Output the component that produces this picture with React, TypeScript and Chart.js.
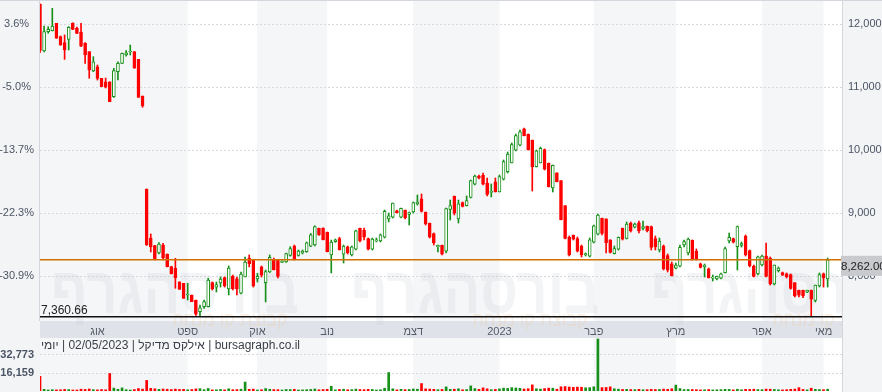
import React, { useEffect, useRef } from 'react';
import { Chart, registerables } from 'chart.js';

Chart.register(...registerables);

// ---------------- data ----------------
const opens = [
  12310, 11572, 11878, 11894, 12011, 11800, 11704, 11757, 12011, 11932,
  11870, 11694, 11561, 11255, 11323, 11139, 11085, 11085, 10848, 11244,
  11377, 11510, 11556, 11561, 11440, 10859, 9380, 8608, 8486, 8370,
  8497, 8355, 8154, 8133, 7915, 7890, 7705, 7700, 7625, 7440,
  7520, 7520, 7900, 7830, 7895, 7980, 7800, 8000, 7960, 7735,
  7990, 8290, 8259, 7960, 8150, 7900, 8069, 8270, 8259, 8222,
  8228, 8330, 8480, 8330, 8370, 8390, 8480, 8497, 8760, 8767,
  8700, 8340, 8550, 8600, 8350, 8470, 8340, 8430, 8760, 8730,
  8600, 8430, 8560, 8560, 8620, 8910, 8940, 9040, 8940, 9050,
  8980, 9020, 9150, 9230, 9020, 8840, 8680, 8470, 8490, 8400,
  9060, 9270, 8910, 9170, 9120, 9250, 9460, 9590, 9600, 9480,
  9330, 9500, 9340, 9540, 9660, 9800, 10000, 10080, 10340, 10250,
  10161, 9740, 9800, 10010, 9790, 9400, 9640, 9520, 9120, 8620,
  8650, 8600, 8480, 8340, 8320, 8540, 8670, 8920, 8910, 8580,
  8360, 8430, 8760, 8600, 8840, 8780, 8850, 8760, 8798, 8790,
  8600, 8420, 8480, 8330, 8200, 8130, 8160, 8500, 8370, 8576,
  8400, 8200, 8150, 8120, 7970, 7960, 7970, 8060, 8560, 8600,
  8470, 8490, 8640, 8410, 8160, 8040, 8180, 8320, 8290, 7880,
  8090, 8060, 8040, 8030, 7900, 7780, 7780, 7750, 7780, 7620,
  7850, 8040, 7960,
];
const highs = [
  12320, 11968, 11958, 12249, 12011, 11810, 11826, 11958, 12020, 11950,
  12011, 11704, 11561, 11482, 11350, 11139, 11144, 11085, 11298, 11402,
  11540, 11577, 11667, 11561, 11440, 10860, 9386, 8672, 8490, 8535,
  8525, 8355, 8160, 8286, 7915, 7890, 7890, 7705, 7625, 7545,
  7625, 7970, 7911, 7911, 7990, 7990, 8164, 8020, 7990, 8069,
  8307, 8340, 8259, 8050, 8164, 8100, 8340, 8290, 8259, 8250,
  8370, 8470, 8497, 8418, 8418, 8545, 8680, 8800, 8767, 8770,
  8703, 8576, 8592, 8620, 8497, 8481, 8481, 8735, 8767, 8767,
  8608, 8608, 8608, 8672, 9052, 9004, 9163, 9052, 9084, 9052,
  9020, 9179, 9290, 9306, 9020, 8846, 8688, 8497, 8497, 9084,
  9210, 9274, 9210, 9179, 9274, 9527, 9607, 9607, 9638, 9559,
  9464, 9559, 9607, 9844, 9971, 10114, 10257, 10320, 10352, 10257,
  10161, 10003, 10050, 10019, 9797, 9765, 9640, 9520, 9120, 8640,
  8656, 8624, 8497, 8370, 8608, 8814, 8989, 8925, 8910, 8580,
  8481, 8624, 8767, 8862, 8862, 8846, 8878, 8878, 8798, 8798,
  8640, 8608, 8497, 8355, 8228, 8212, 8497, 8576, 8608, 8576,
  8434, 8212, 8196, 8133, 8022, 8006, 8054, 8465, 8687, 8608,
  8798, 8545, 8656, 8418, 8180, 8323, 8339, 8529, 8307, 8180,
  8149, 8069, 8054, 8038, 7900, 7784, 7784, 7784, 7784, 7863,
  8054, 8054, 8291,
];
const lows = [
  11545, 11556, 11852, 11890, 11770, 11660, 11440, 11588, 11910, 11845,
  11640, 11377, 11140, 11245, 11112, 11006, 10986, 10768, 10838, 11112,
  11370, 11490, 11509, 11298, 10838, 10680, 8490, 8386, 8259, 8355,
  8259, 8150, 8038, 7811, 7795, 7652, 7625, 7600, 7380, 7360.66,
  7490, 7515, 7784, 7752, 7830, 7830, 7705, 7784, 7705, 7721,
  7990, 8150, 7830, 7911, 7990, 7594, 8060, 8101, 7974, 8220,
  8220, 8320, 8259, 8320, 8355, 8380, 8470, 8481, 8650, 8576,
  8386, 8054, 8540, 8418, 8212, 8355, 8323, 8418, 8545, 8576,
  8418, 8418, 8545, 8545, 8608, 8862, 8925, 9004, 8925, 8910,
  8814, 9004, 9130, 9020, 8814, 8608, 8497, 8386, 8340, 8370,
  8893, 8973, 8846, 9100, 9115, 9242, 9448, 9543, 9448, 9274,
  9258, 9337, 9337, 9527, 9638, 9797, 9990, 10066, 10225, 10003,
  9353, 9733, 9797, 9686, 9416, 9337, 9496, 8893, 8592, 8323,
  8576, 8386, 8307, 8323, 8307, 8529, 8656, 8656, 8370, 8370,
  8355, 8418, 8576, 8592, 8703, 8767, 8688, 8735, 8703, 8418,
  8418, 8386, 8101, 8069, 8006, 8117, 8149, 8465, 8339, 8259,
  8259, 8133, 7990, 7974, 7926, 7942, 7958, 8054, 8529, 8529,
  8101, 8465, 8323, 8149, 7990, 8022, 8164, 7990, 7863, 7863,
  8069, 8015, 7974, 7797, 7673, 7673, 7663, 7740, 7365, 7594,
  7831, 7830, 7831,
];
const closes = [
  11583, 11878, 11916, 11968, 11775, 11667, 11588, 11948, 11916, 11852,
  11650, 11509, 11271, 11402, 11139, 11006, 10997, 10768, 11260, 11377,
  11535, 11545, 11565, 11300, 10838, 10700, 8500, 8465, 8270, 8513,
  8291, 8154, 8038, 7974, 7795, 7652, 7720, 7600, 7400, 7500,
  7600, 7940, 7800, 7870, 7955, 7850, 8130, 7800, 7800, 8038,
  8228, 8200, 7850, 8000, 8020, 8075, 8300, 8101, 8000, 8240,
  8360, 8440, 8260, 8400, 8400, 8530, 8660, 8790, 8660, 8580,
  8390, 8545, 8580, 8420, 8480, 8370, 8470, 8720, 8560, 8620,
  8430, 8590, 8580, 8660, 9030, 8960, 9160, 9010, 9080, 8930,
  9010, 9170, 9180, 9030, 8830, 8620, 8530, 8490, 8350, 9075,
  9120, 9000, 9150, 9110, 9200, 9520, 9590, 9560, 9460, 9300,
  9350, 9340, 9580, 9820, 9940, 10090, 10230, 10290, 10230, 10010,
  9735, 9990, 10030, 9700, 9420, 9760, 9500, 8900, 8600, 8340,
  8590, 8400, 8340, 8360, 8580, 8800, 8970, 8680, 8530, 8380,
  8440, 8620, 8590, 8830, 8720, 8830, 8720, 8790, 8720, 8460,
  8470, 8560, 8120, 8100, 8010, 8180, 8460, 8550, 8590, 8280,
  8270, 8140, 8180, 7980, 7990, 8000, 8040, 8440, 8620, 8540,
  8790, 8520, 8340, 8170, 8000, 8310, 8320, 8000, 7880, 8180,
  8130, 8020, 7990, 7810, 7690, 7700, 7690, 7780, 7640, 7860,
  8030, 7980, 8262,
];
const volumes = [
  13200, 1500, 900, 1200, 1000, 1100, 1400, 1300, 800, 900,
  1600, 1400, 1800, 1200, 1000, 1300, 1100, 15700, 2600, 1500,
  2800, 1200, 900, 1300, 2200, 1700, 9500, 2400, 2000, 1500,
  1800, 1600, 1300, 1700, 1400, 1500, 1100, 1300, 1900, 2100,
  1200, 2300, 1000, 1100, 1400, 1000, 2000, 1200, 1300, 1600,
  8000, 1500, 1700, 900, 1100, 2200, 1500, 1300, 1200, 800,
  1400, 1300, 1500, 900, 1000, 1200, 1400, 1800, 1100, 1300,
  1500, 4300, 1000, 1400, 1600, 1100, 1200, 1700, 1300, 1200,
  1500, 1400, 900, 1100, 2500, 16600, 2000, 1000, 1500, 1200,
  1400, 1800, 1600, 6700, 1900, 1700, 1500, 1200, 1400, 3700,
  1500, 1600, 2000, 1100, 1300, 4600, 2200, 1500, 2800, 2000,
  1200, 1400, 1900, 2600, 2300, 3000, 2700, 2400, 1800, 2100,
  5500, 2000, 1700, 2200, 2600, 2500, 1600, 3800, 4000, 3600,
  3300, 3500, 3400, 2900, 3000, 3800, 46700, 3000, 3200, 3700,
  2000, 1600, 1400, 1500, 1300, 1200, 1500, 1100, 1200, 1500,
  1300, 1400, 1700, 1500, 2000, 5300, 2200, 1300, 1400, 1300,
  1200, 1000, 1100, 1300, 1000, 1100, 1200, 1500, 1400, 1000,
  1600, 1100, 1500, 1400, 1600, 1300, 1200, 1700, 1600, 1400,
  1100, 1000, 1200, 1500, 1700, 3000, 1400, 1000, 2500, 1500,
  1300, 1200, 1600,
];
const monthTickIdx = [14, 36, 53, 70, 91, 112, 135, 155, 176, 191];
const monthLabels = ['אוג', 'ספט', 'אוק', 'נוב', 'דצמ', '2023', 'פבר', 'מרץ', 'אפר', 'מאי'];
const priceTicks = [8000, 9000, 10000, 11000, 12000];
const volumeTicks = [16159, 32773];
const titleText = 'bursagraph.co.il | אילקס מדיקל | 02/05/2023 | יומי';
const watermarkText = 'בורסהגרף';
const watermarkSub = 'קבוצת קו מנחה';

// ---------------- look ----------------
const FONT = '"Liberation Sans", Arial, Helvetica, sans-serif';
const TEXT = '#4b5565';
const UP = '#17901a';
const DOWN = '#ff0000';
const PANEL = '#f3f4f6';
const SHADE = '#f5f6f8';
const XBAND = '#dfe3e9';
const GRID = '#d5d8dd';
const SEP = '#d3d7dd';

const X_MAX = 195.5;
const PRICE_MIN = 7292.5;
const PRICE_MAX = 12364.6;
const VOL_MAX = 47580;

const basePrice = closes[0];
const pct = (p: number) => (p / basePrice - 1) * 100;
const lastClose = closes[closes.length - 1];
const periodLow = Math.min(...lows);
const isUp = (i: number) => closes[i] >= opens[i];
const fmt2 = (v: number) => v.toLocaleString('en-US', { minimumFractionDigits: 2, maximumFractionDigits: 2 });

function paintBands(chart: any, top: number, bottom: number) {
  const { ctx, chartArea: a, scales } = chart;
  const x = scales.x;
  const edges = [a.left, ...monthTickIdx.slice(1).map((v) => x.getPixelForValue(v)), a.right];
  for (let k = 0; k < edges.length - 1; k++) {
    ctx.fillStyle = k % 2 === 0 ? SHADE : '#ffffff';
    ctx.fillRect(edges[k], top, edges[k + 1] - edges[k], bottom - top);
  }
}

const topDecor = {
  id: 'topDecor',
  beforeDraw(chart: any) {
    const { ctx, chartArea: a } = chart;
    ctx.save();
    ctx.fillStyle = PANEL;
    ctx.fillRect(0, 0, chart.width, chart.height);
    paintBands(chart, a.top, a.bottom);
    ctx.fillStyle = XBAND;
    ctx.fillRect(a.left, a.bottom, a.right - a.left, chart.height - a.bottom);
    ctx.strokeStyle = SEP;
    ctx.lineWidth = 1;
    ctx.beginPath();
    ctx.moveTo(0, 0.5);
    ctx.lineTo(chart.width, 0.5);
    ctx.moveTo(a.left - 0.5, 0);
    ctx.lineTo(a.left - 0.5, a.bottom);
    ctx.moveTo(a.right + 0.5, 0);
    ctx.lineTo(a.right + 0.5, chart.height);
    ctx.stroke();
    ctx.restore();
  },
  beforeDatasetsDraw(chart: any) {
    const { ctx, chartArea: a } = chart;
    ctx.save();
    ctx.beginPath();
    ctx.rect(a.left, 0, a.right - a.left, chart.height);
    ctx.clip();
    ctx.direction = 'rtl';
    ctx.textAlign = 'center';
    ctx.textBaseline = 'alphabetic';
    ctx.font = `bold 66px ${FONT}`;
    const w = ctx.measureText(watermarkText).width;
    ctx.font = `20px ${FONT}`;
    const ws = ctx.measureText(watermarkSub).width;
    for (const cx of [175, 475, 775]) {
      ctx.save();
      ctx.translate(cx, 313);
      ctx.scale(248 / w, 1);
      ctx.font = `bold 66px ${FONT}`;
      ctx.fillStyle = 'rgba(190,199,212,0.20)';
      ctx.fillText(watermarkText, 0, 0);
      ctx.restore();
      ctx.save();
      ctx.translate(cx + 112 - 57, 326);
      ctx.scale(115 / ws, 1);
      ctx.font = `20px ${FONT}`;
      ctx.fillStyle = 'rgba(240,196,156,0.25)';
      ctx.fillText(watermarkSub, 0, 0);
      ctx.restore();
    }
    ctx.restore();
  },
  afterDatasetsDraw(chart: any) {
    const { ctx, chartArea: a, scales } = chart;
    const y = scales.y;
    ctx.save();
    const yc = y.getPixelForValue(lastClose);
    ctx.strokeStyle = '#d07000';
    ctx.lineWidth = 1.5;
    ctx.beginPath();
    ctx.moveTo(a.left, yc);
    ctx.lineTo(a.right, yc);
    ctx.stroke();
    const yl = y.getPixelForValue(periodLow);
    ctx.strokeStyle = '#111111';
    ctx.lineWidth = 1.5;
    ctx.beginPath();
    ctx.moveTo(a.left, yl);
    ctx.lineTo(a.right, yl);
    ctx.stroke();
    ctx.fillStyle = '#222222';
    ctx.font = `12px ${FONT}`;
    ctx.textAlign = 'left';
    ctx.textBaseline = 'alphabetic';
    ctx.fillText(fmt2(periodLow), a.left + 1, yl - 2.5);
    ctx.fillStyle = '#c8cacd';
    ctx.fillRect(a.right - 1, yc - 4, chart.width - a.right + 1, 20);
    ctx.fillStyle = '#222222';
    ctx.font = `11.5px ${FONT}`;
    ctx.fillText(fmt2(lastClose), a.right - 1, yc + 10.5);
    ctx.restore();
  },
};

const volDecor = {
  id: 'volDecor',
  beforeDraw(chart: any) {
    const { ctx, chartArea: a } = chart;
    ctx.save();
    ctx.fillStyle = PANEL;
    ctx.fillRect(0, 0, chart.width, chart.height);
    paintBands(chart, 0, chart.height);
    ctx.strokeStyle = SEP;
    ctx.lineWidth = 1;
    ctx.beginPath();
    ctx.moveTo(a.right + 0.5, 0);
    ctx.lineTo(a.right + 0.5, chart.height);
    ctx.stroke();
    ctx.restore();
  },
  afterDatasetsDraw(chart: any) {
    const { ctx, chartArea: a } = chart;
    ctx.save();
    ctx.direction = 'rtl';
    ctx.textAlign = 'left';
    ctx.textBaseline = 'alphabetic';
    ctx.font = `12px ${FONT}`;
    ctx.fillStyle = '#3a3f47';
    ctx.fillText(titleText, a.left + 1, 11);
    ctx.restore();
  },
};

const tickFont = { family: FONT, size: 11 };

export default function App() {
  const topRef = useRef<HTMLCanvasElement>(null);
  const volRef = useRef<HTMLCanvasElement>(null);

  useEffect(() => {
    const colorOf = (i: number) => (isUp(i) ? UP : DOWN);

    const top = new Chart(topRef.current as HTMLCanvasElement, {
      type: 'bar',
      data: {
        datasets: [
          {
            label: 'wick',
            data: lows.map((l, i) => ({ x: i, y: [l, highs[i]] })) as any,
            backgroundColor: lows.map((_, i) => colorOf(i)),
            borderWidth: 0,
            barThickness: 1,
            grouped: false,
            minBarLength: 1,
            order: 2,
          },
          {
            label: 'body',
            data: opens.map((o, i) => ({ x: i, y: [o, closes[i]] })) as any,
            backgroundColor: opens.map((_, i) => (isUp(i) ? '#ffffff' : DOWN)),
            borderColor: opens.map((_, i) => colorOf(i)),
            borderWidth: 1,
            borderSkipped: false,
            barThickness: 3,
            grouped: false,
            minBarLength: 1,
            order: 1,
          },
        ],
      },
      options: {
        responsive: false,
        maintainAspectRatio: false,
        animation: false,
        devicePixelRatio: 1,
        events: [],
        layout: { autoPadding: false, padding: { top: 1, left: 0, right: 0, bottom: 0 } },
        plugins: { legend: { display: false }, tooltip: { enabled: false } },
        scales: {
          x: {
            type: 'linear',
            min: 0,
            max: X_MAX,
            offset: false,
            grid: { display: false, drawTicks: false, offset: false },
            border: { display: false },
            ticks: {
              autoSkip: false,
              maxRotation: 0,
              padding: 4,
              color: '#555b66',
              font: tickFont,
              callback: (_v: any, i: number) => monthLabels[i] ?? '',
            },
            afterBuildTicks: (s: any) => {
              s.ticks = monthTickIdx.map((v) => ({ value: v }));
            },
            afterFit: (s: any) => {
              s.height = 17;
              s.paddingLeft = 0;
              s.paddingRight = 0;
            },
          },
          y: {
            type: 'linear',
            position: 'right',
            min: PRICE_MIN,
            max: PRICE_MAX,
            grid: { color: GRID, lineWidth: 1, drawTicks: false },
            border: { display: false, dash: [2, 2] },
            ticks: {
              padding: 6,
              color: TEXT,
              font: tickFont,
              callback: (v: any) => Number(v).toLocaleString('en-US'),
            },
            afterBuildTicks: (s: any) => {
              s.ticks = priceTicks.map((v) => ({ value: v }));
            },
            afterFit: (s: any) => {
              s.width = 40;
              s.paddingTop = 0;
              s.paddingBottom = 0;
            },
          },
          yPct: {
            type: 'linear',
            position: 'left',
            min: pct(PRICE_MIN),
            max: pct(PRICE_MAX),
            grid: { display: false, drawTicks: false },
            border: { display: false },
            ticks: {
              padding: 6,
              crossAlign: 'center',
              color: TEXT,
              font: tickFont,
              callback: (v: any) => Number(v).toFixed(1) + '%',
            },
            afterBuildTicks: (s: any) => {
              s.ticks = priceTicks.map((p) => ({ value: pct(p) }));
            },
            afterFit: (s: any) => {
              s.width = 40;
              s.paddingTop = 0;
              s.paddingBottom = 0;
            },
          },
        },
      } as any,
      plugins: [topDecor],
    });

    const vol = new Chart(volRef.current as HTMLCanvasElement, {
      type: 'bar',
      data: {
        datasets: [
          {
            label: 'volume',
            data: volumes.map((v, i) => ({ x: i, y: v })) as any,
            backgroundColor: volumes.map((_, i) => colorOf(i)),
            borderWidth: 0,
            barThickness: 2,
            grouped: false,
            minBarLength: 1,
          },
        ],
      },
      options: {
        responsive: false,
        maintainAspectRatio: false,
        animation: false,
        devicePixelRatio: 1,
        events: [],
        layout: { autoPadding: false, padding: { top: 0, left: 0, right: 40, bottom: 1 } },
        plugins: { legend: { display: false }, tooltip: { enabled: false } },
        scales: {
          x: {
            type: 'linear',
            min: 0,
            max: X_MAX,
            offset: false,
            display: false,
          },
          y: {
            type: 'linear',
            position: 'left',
            min: 0,
            max: VOL_MAX,
            grid: { color: GRID, lineWidth: 1, drawTicks: false },
            border: { display: false, dash: [2, 2] },
            ticks: {
              padding: 6,
              crossAlign: 'center',
              color: TEXT,
              font: { family: FONT, size: 11, weight: 'bold' },
              callback: (v: any) => Number(v).toLocaleString('en-US'),
            },
            afterBuildTicks: (s: any) => {
              s.ticks = volumeTicks.map((v) => ({ value: v }));
            },
            afterFit: (s: any) => {
              s.width = 40;
              s.paddingTop = 0;
              s.paddingBottom = 0;
            },
          },
        },
      } as any,
      plugins: [volDecor],
    });

    return () => {
      top.destroy();
      vol.destroy();
    };
  }, []);

  return (
    <div
      style={{
        position: 'fixed',
        left: 0,
        top: 0,
        width: 882,
        height: 392,
        overflow: 'hidden',
        background: '#ffffff',
      }}
    >
      <canvas
        ref={topRef}
        width={882}
        height={338}
        style={{ position: 'absolute', left: 0, top: 0, width: 882, height: 338, display: 'block' }}
      />
      <canvas
        ref={volRef}
        width={882}
        height={54}
        style={{ position: 'absolute', left: 0, top: 338, width: 882, height: 54, display: 'block' }}
      />
    </div>
  );
}
